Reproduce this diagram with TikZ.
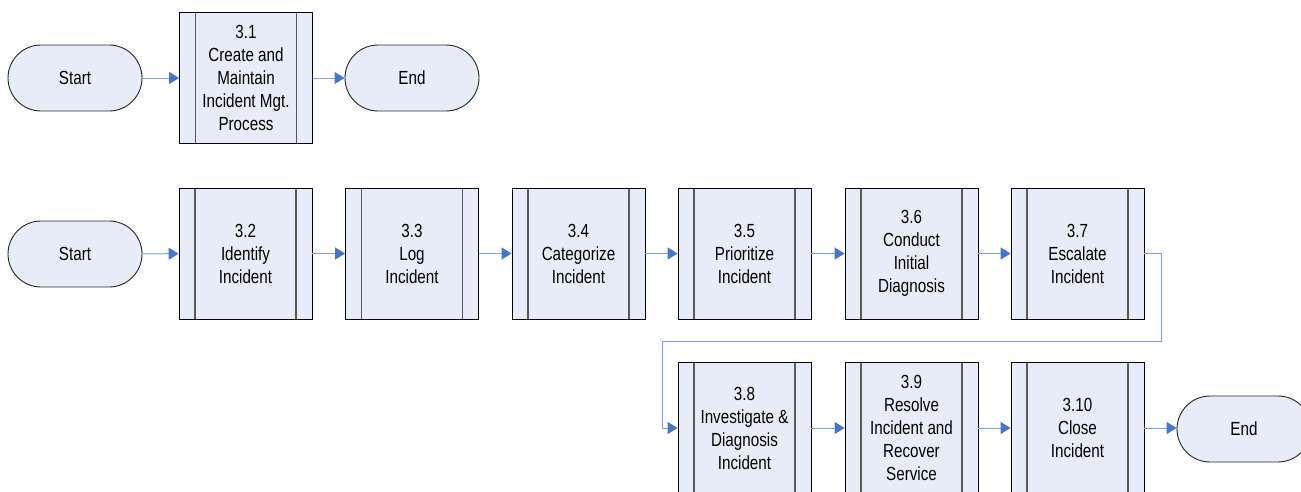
\documentclass[tikz,border=0pt]{standalone}
\usepackage{fontspec}
\setmainfont{Liberation Sans}[FakeStretch=0.8]
\usetikzlibrary{arrows.meta,calc}
\definecolor{boxfill}{HTML}{E7EDF8}
\definecolor{linkblue}{HTML}{7FA4DA}
\definecolor{tipblue}{HTML}{4676C6}
\definecolor{sidegray}{HTML}{5A5A5A}
\begin{document}
\begin{tikzpicture}[x=1pt,y=-1pt,
  every node/.style={font=\fontsize{19}{23}\selectfont, text=black},
  procbox/.style={rectangle, draw=black, line width=0.9pt, fill=boxfill,
    minimum width=133pt, minimum height=131pt, inner sep=0pt, align=center,
    path picture={
      \draw[sidegray, line width=1.5pt]
        ($(path picture bounding box.north west)+(16,0)$) --
        ($(path picture bounding box.south west)+(16,0)$)
        ($(path picture bounding box.north east)+(-16,0)$) --
        ($(path picture bounding box.south east)+(-16,0)$);
    }},
  terminal/.style={rectangle, rounded corners=33pt, draw=black!85, line width=0.9pt,
    fill=boxfill, minimum width=134pt, minimum height=66pt, inner sep=0pt},
  flow/.style={draw=linkblue, line width=1pt,
    -{Triangle[length=10pt,width=12pt,color=tipblue,fill=tipblue]}}
]
\clip (0,0) rectangle (1301,491);
\useasboundingbox (0,0) rectangle (1301,491);

% maintenance flow
\node[terminal] (s1) at (75,78) {Start};
\node[procbox] (b31) at (246,78) {3.1\\Create and\\Maintain\\Incident Mgt.\\Process};
\node[terminal] (e1) at (412,78) {End};
\draw[flow] (s1) -- (b31);
\draw[flow] (b31) -- (e1);

% main incident flow
\node[terminal] (s2) at (75,254) {Start};
\node[procbox] (b32) at (245.5,253.5) {3.2\\Identify\\Incident};
\node[procbox] (b33) at (412,253.5) {3.3\\Log\\Incident};
\node[procbox] (b34) at (578.5,253.5) {3.4\\Categorize\\Incident};
\node[procbox] (b35) at (744.5,253.5) {3.5\\Prioritize\\Incident};
\node[procbox] (b36) at (911.5,253.5) {3.6\\Conduct\\Initial\\Diagnosis};
\node[procbox] (b37) at (1077.5,253.5) {3.7\\Escalate\\Incident};

\node[procbox] (b38) at (744.5,428) {3.8\\Investigate \&\\Diagnosis\\Incident};
\node[procbox] (b39) at (911.5,428) {3.9\\Resolve\\Incident and\\Recover\\Service};
\node[procbox] (b310) at (1077.5,428) {3.10\\Close\\Incident};
\node[terminal] (e2) at (1244,429) {End};

\draw[flow] (s2) -- (b32);
\draw[flow] (b32) -- (b33);
\draw[flow] (b33) -- (b34);
\draw[flow] (b34) -- (b35);
\draw[flow] (b35) -- (b36);
\draw[flow] (b36) -- (b37);

\coordinate (turnA) at (1161,341);
\coordinate (turnB) at (662,341);
\draw[flow] (b37.east) -| (turnA) -- (turnB) |- (b38.west);

\draw[flow] (b38) -- (b39);
\draw[flow] (b39) -- (b310);
\draw[flow] (b310.east) -- (e2.west |- b310.east);
\end{tikzpicture}
\end{document}
